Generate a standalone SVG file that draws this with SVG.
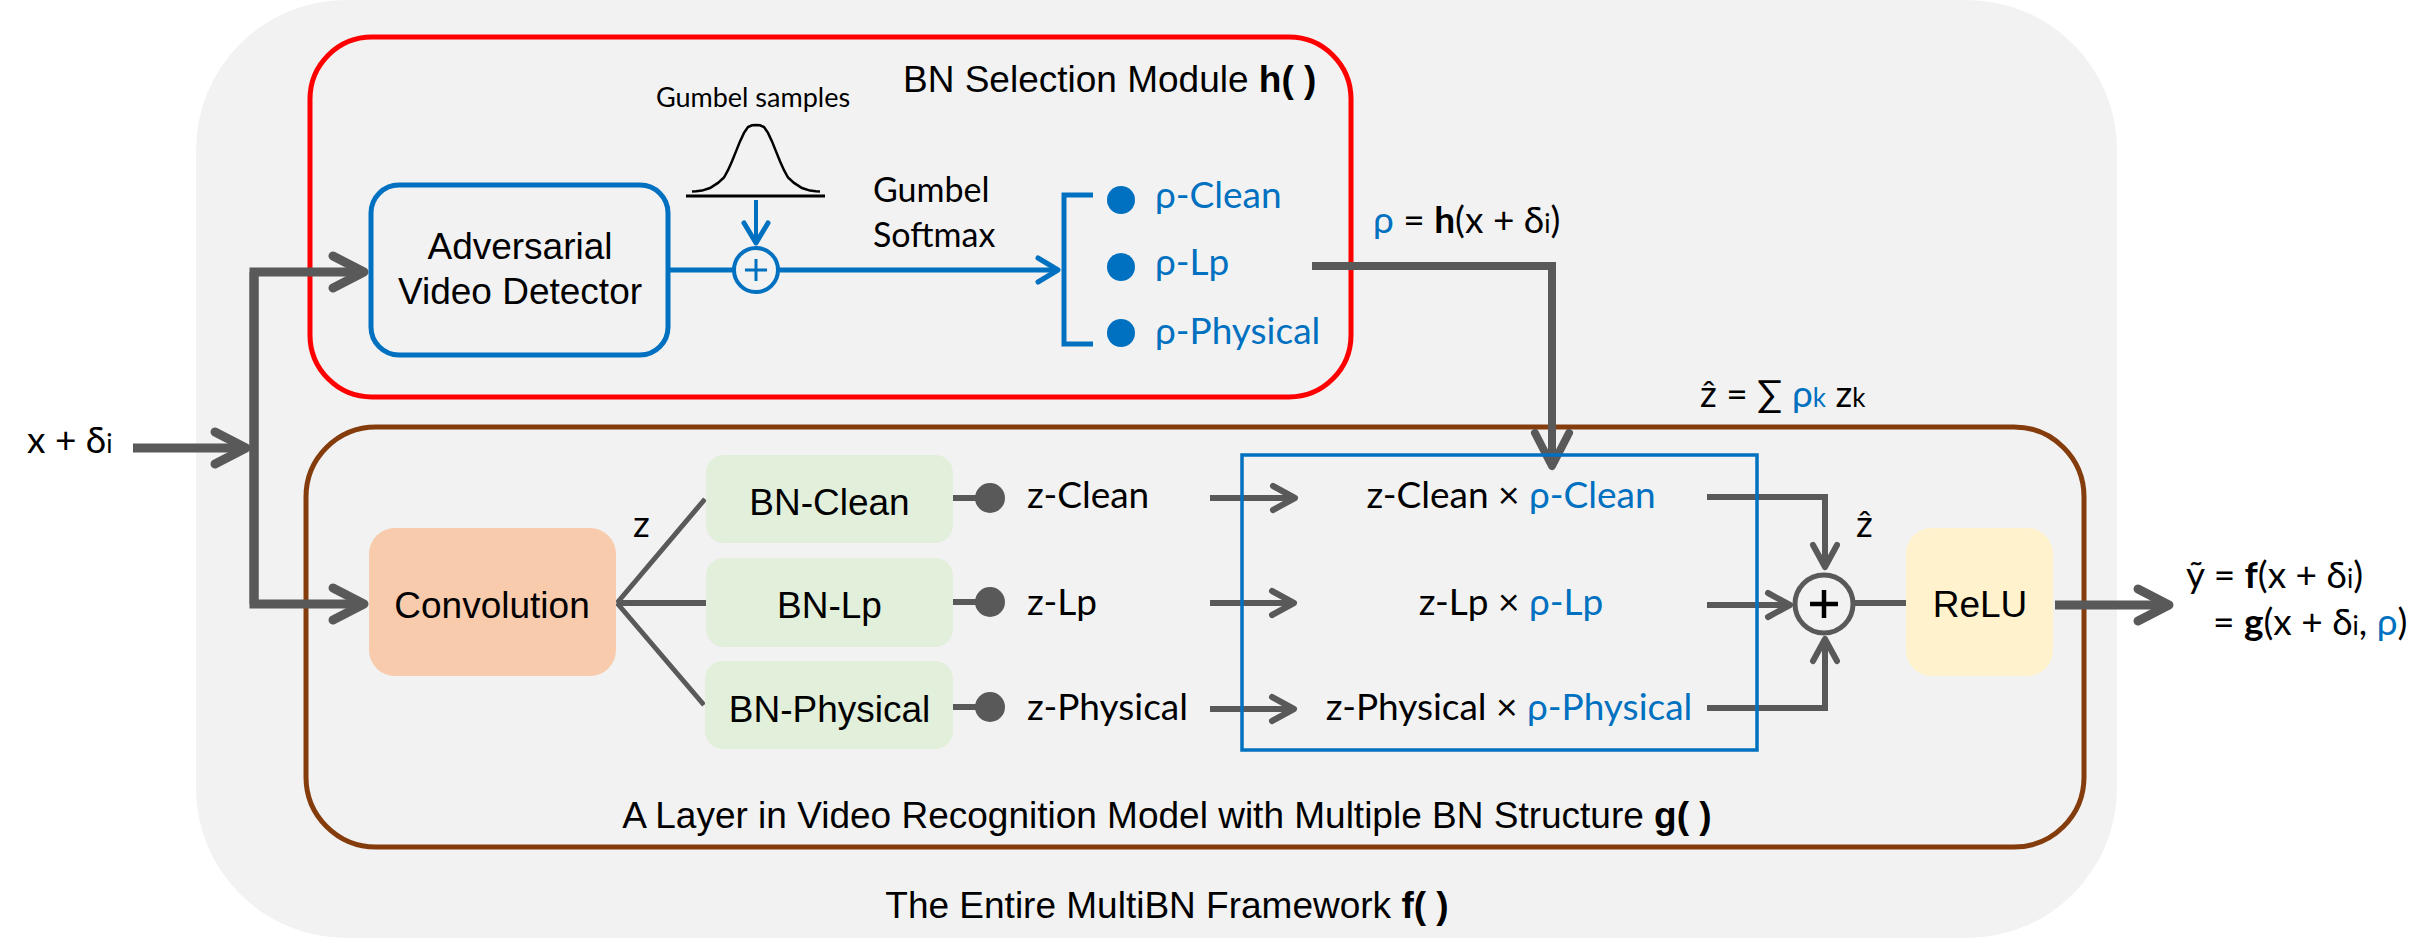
<svg xmlns="http://www.w3.org/2000/svg" width="2436" height="951" viewBox="0 0 2436 951">
<style>
.a{font-family:"Liberation Sans",Arial,sans-serif;font-size:37px;fill:#000}
.c{font-family:Lato,"Noto Sans",sans-serif;font-size:37px;fill:#000}
.c.small{font-size:27px}
.c.mid{font-size:34px}
.b{fill:#0070c0}
.sub{font-size:26px}
.gl{fill:none;stroke:#595959;stroke-linejoin:miter}
.bl{fill:none;stroke:#0070c0}
</style>
<defs>
<marker id="arBig" markerUnits="userSpaceOnUse" markerWidth="60" markerHeight="60" viewBox="-50 -30 60 60" refX="0" refY="0" orient="auto" overflow="visible">
<path d="M-31,-16 L0,0 L-31,16" fill="none" stroke="#595959" stroke-width="9" stroke-linecap="round" stroke-linejoin="round"/>
</marker>
<marker id="arRho" markerUnits="userSpaceOnUse" markerWidth="60" markerHeight="60" viewBox="-50 -30 60 60" refX="0" refY="0" orient="auto" overflow="visible">
<path d="M-33,-17 L0,0 L-33,17" fill="none" stroke="#595959" stroke-width="8" stroke-linecap="round" stroke-linejoin="round"/>
</marker>
<marker id="arMed" markerUnits="userSpaceOnUse" markerWidth="60" markerHeight="60" viewBox="-50 -30 60 60" refX="0" refY="0" orient="auto" overflow="visible">
<path d="M-22,-12 L0,0 L-22,12" fill="none" stroke="#595959" stroke-width="6" stroke-linecap="round" stroke-linejoin="round"/>
</marker>
<marker id="arBlue" markerUnits="userSpaceOnUse" markerWidth="60" markerHeight="60" viewBox="-50 -30 60 60" refX="0" refY="0" orient="auto" overflow="visible">
<path d="M-20,-12 L0,0 L-20,12" fill="none" stroke="#0070c0" stroke-width="5" stroke-linecap="round" stroke-linejoin="round"/>
</marker>
</defs>

<g id="framework">
<rect x="196" y="0" width="1921" height="938" rx="150" ry="150" fill="#f2f2f2"/>
<text class="a" x="1167" y="918" text-anchor="middle">The Entire MultiBN Framework <tspan font-weight="bold">f( )</tspan></text>
</g>

<g id="selection-module">
<rect x="310" y="37" width="1041" height="360" rx="62" ry="62" fill="none" stroke="#ff0000" stroke-width="5"/>
<text class="a" x="903" y="92">BN Selection Module <tspan font-weight="bold">h( )</tspan></text>
</g>

<g id="layer">
<rect x="306" y="427" width="1778" height="420" rx="70" ry="70" fill="none" stroke="#843c0c" stroke-width="5"/>
<text class="a" x="1167" y="828" text-anchor="middle">A Layer in Video Recognition Model with Multiple BN Structure <tspan font-weight="bold">g( )</tspan></text>
</g>

<g id="connectors">
<path class="gl" stroke-width="9" d="M133,448 L246,448" marker-end="url(#arBig)"/>
<path class="gl" stroke-width="9" d="M254,604 L254,272 L364,272" marker-end="url(#arBig)"/>
<path class="gl" stroke-width="9" d="M254,272 L254,604 L364,604" marker-end="url(#arBig)"/>
<path class="bl" stroke-width="5" d="M668,270 L734,270"/>
<path class="bl" stroke-width="5" d="M778,270 L1058,270" marker-end="url(#arBlue)"/>
<path class="bl" stroke-width="4" d="M756,200 L756,243" marker-end="url(#arBlue)"/>
<path class="bl" stroke-width="5" d="M1093,195 L1064,195 L1064,344 L1093,344"/>
<path class="gl" stroke-width="8" d="M1312,266 L1552,266 L1552,466" marker-end="url(#arRho)"/>
<path class="gl" stroke-width="5" d="M617,603 L705,499"/>
<path class="gl" stroke-width="6" d="M617,603 L706,603"/>
<path class="gl" stroke-width="5" d="M617,603 L704,705"/>
<g fill="#595959">
<path class="gl" stroke-width="6" d="M953,498 L980,498"/>
<circle cx="990" cy="498" r="15"/>
<path class="gl" stroke-width="6" d="M953,602 L980,602"/>
<circle cx="990" cy="602" r="15"/>
<path class="gl" stroke-width="6" d="M953,707 L980,707"/>
<circle cx="990" cy="707" r="15"/>
</g>
<path class="gl" stroke-width="6" d="M1210,498 L1295,498" marker-end="url(#arMed)"/>
<path class="gl" stroke-width="6" d="M1210,603 L1294,603" marker-end="url(#arMed)"/>
<path class="gl" stroke-width="6" d="M1210,709 L1294,709" marker-end="url(#arMed)"/>
<path class="gl" stroke-width="6" d="M1707,497 L1825,497 L1825,567" marker-end="url(#arMed)"/>
<path class="gl" stroke-width="6" d="M1707,605 L1790,605" marker-end="url(#arMed)"/>
<path class="gl" stroke-width="6" d="M1707,708 L1825,708 L1825,639" marker-end="url(#arMed)"/>
<path class="gl" stroke-width="6" d="M1854,603 L1906,603"/>
<path class="gl" stroke-width="9" d="M2055,605 L2169,605" marker-end="url(#arBig)"/>
</g>

<g id="input-label">
<text class="c" x="27" y="453">x + δ<tspan class="sub">i</tspan></text>
</g>

<g id="adversarial-video-detector">
<rect x="371" y="185" width="297" height="170" rx="28" ry="28" fill="none" stroke="#0070c0" stroke-width="5"/>
<text class="a" x="520" y="259" text-anchor="middle">Adversarial</text>
<text class="a" x="520" y="304" text-anchor="middle">Video Detector</text>
</g>

<g id="gumbel-samples">
<text class="c small" x="753" y="107" text-anchor="middle">Gumbel samples</text>
<polyline fill="none" stroke="#000" stroke-width="2.5" points="692,191.5 696,191.2 702,190.6 710,188 718,182.9 724,177.5 728,170.2 732,161.3 736,151.4 740,141.4 744,132.9 748,127.1 752,125.3 756,125 760,125.3 764,127.1 768,132.9 772,141.4 776,151.4 780,161.3 784,170.2 788,177.5 794,182.9 802,188 810,190.6 816,191.2 820,191.5"/>
<line x1="686" y1="196" x2="825" y2="196" stroke="#000" stroke-width="3"/>
</g>

<g id="gumbel-add">
<circle cx="756" cy="270" r="22" fill="#f2f2f2" stroke="#0070c0" stroke-width="4"/>
<path d="M745,270 H767 M756,259 V281" stroke="#0070c0" stroke-width="3" fill="none"/>
</g>

<g id="gumbel-softmax-label">
<text class="c mid" x="873" y="202">Gumbel</text>
<text class="c mid" x="873" y="247">Softmax</text>
</g>

<g id="rho-options">
<circle cx="1121" cy="200" r="14" fill="#0070c0"/>
<circle cx="1121" cy="267" r="14" fill="#0070c0"/>
<circle cx="1121" cy="333" r="14" fill="#0070c0"/>
<text class="c b" x="1155" y="208">ρ-Clean</text>
<text class="c b" x="1155" y="275">ρ-Lp</text>
<text class="c b" x="1155" y="344">ρ-Physical</text>
</g>

<g id="rho-formula">
<text class="c" x="1373" y="233"><tspan class="b">ρ</tspan> = <tspan font-weight="bold">h</tspan>(x + δ<tspan class="sub">i</tspan>)</text>
</g>

<g id="zhat-formula">
<text class="c" x="1700" y="407">ẑ = ∑ <tspan class="b">ρ<tspan class="sub">k</tspan></tspan> z<tspan class="sub">k</tspan></text>
</g>

<g id="convolution">
<rect x="369" y="528" width="247" height="148" rx="26" ry="26" fill="#f8cbad"/>
<text class="a" x="492" y="618" text-anchor="middle">Convolution</text>
</g>

<g id="z-label">
<text class="c" x="633" y="537">z</text>
</g>

<g id="bn-clean">
<rect x="706" y="455" width="247" height="88" rx="18" ry="18" fill="#e2efda"/>
<text class="a" x="829.5" y="515" text-anchor="middle">BN-Clean</text>
</g>
<g id="bn-lp">
<rect x="706" y="558" width="247" height="89" rx="18" ry="18" fill="#e2efda"/>
<text class="a" x="829.5" y="618" text-anchor="middle">BN-Lp</text>
</g>
<g id="bn-physical">
<rect x="705" y="661" width="248" height="88" rx="18" ry="18" fill="#e2efda"/>
<text class="a" x="829.5" y="722" text-anchor="middle">BN-Physical</text>
</g>

<g id="z-outputs">
<text class="c" x="1027" y="508">z-Clean</text>
<text class="c" x="1027" y="615">z-Lp</text>
<text class="c" x="1027" y="720">z-Physical</text>
</g>

<g id="weighting">
<rect x="1242" y="455" width="515" height="295" fill="none" stroke="#0070c0" stroke-width="3.5"/>
<text class="c" x="1511" y="508" text-anchor="middle">z-Clean × <tspan class="b">ρ-Clean</tspan></text>
<text class="c" x="1511" y="615" text-anchor="middle">z-Lp × <tspan class="b">ρ-Lp</tspan></text>
<text class="c" x="1509" y="720" text-anchor="middle">z-Physical × <tspan class="b">ρ-Physical</tspan></text>
</g>

<g id="sum">
<circle cx="1824" cy="604" r="29" fill="#f2f2f2" stroke="#595959" stroke-width="5"/>
<path d="M1810,604 H1838 M1824,590 V618" stroke="#000" stroke-width="4.5" fill="none"/>
<text class="c" x="1856" y="537">ẑ</text>
</g>

<g id="relu">
<rect x="1906" y="528" width="147" height="148" rx="26" ry="26" fill="#fff2cc"/>
<text class="a" x="1980" y="617" text-anchor="middle">ReLU</text>
</g>

<g id="output-label">
<text class="c" x="2186" y="588">ỹ = <tspan font-weight="bold">f</tspan>(x + δ<tspan class="sub">i</tspan>)</text>
<text class="c" x="2213" y="635">= <tspan font-weight="bold">g</tspan>(x + δ<tspan class="sub">i</tspan>, <tspan class="b">ρ</tspan>)</text>
</g>
</svg>
